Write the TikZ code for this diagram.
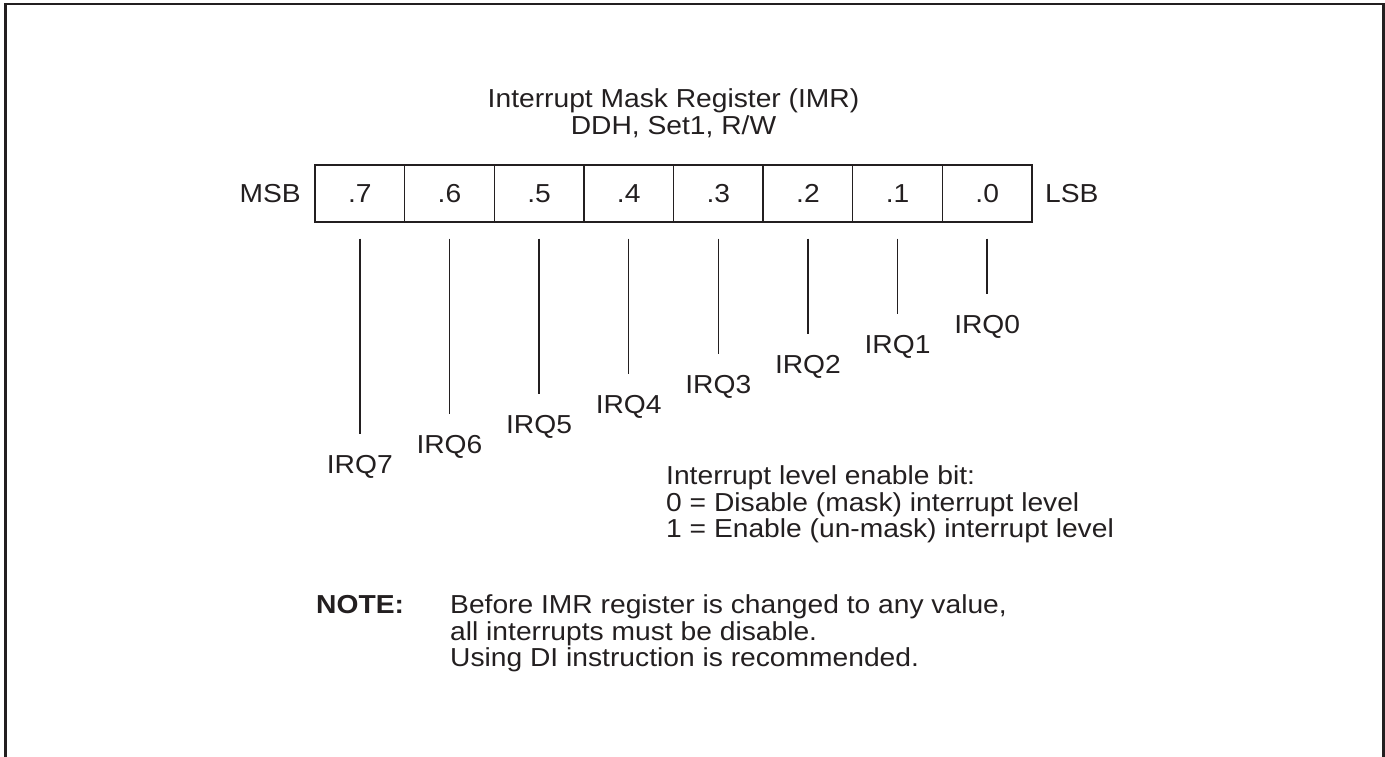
\documentclass[tikz,border=0pt]{standalone}
\usepackage{fontspec}
\setmainfont{Liberation Sans}[FakeStretch=1.085]
\definecolor{ink}{HTML}{231F20}
\begin{document}
\begin{tikzpicture}[x=1pt,y=-1pt,
  every node/.style={font=\fontsize{26pt}{26.7pt}\selectfont, text=ink},
  bitcell/.style={draw=ink, line width=1.3pt, minimum width=89.625pt, minimum height=57pt, inner sep=0pt},
  lead/.style={draw=ink, line width=1.5pt},
  irq/.style={anchor=base, inner sep=0pt},
  frame/.style={draw=ink, line width=2.5pt}]
\useasboundingbox (0,0) rectangle (1385,757);
% outer frame (open at bottom)
\draw[frame] (5.3,757) -- (5.3,4.2) -- (1383.5,4.2) -- (1383.5,757);
% title
\node[anchor=north, align=center, inner sep=0pt] (title) at (673.5,88.5) {Interrupt Mask Register (IMR)\\DDH, Set1, R/W};
% register cells
\foreach \b [count=\i from 0] in {7,6,5,4,3,2,1,0} {
  \node[bitcell] (b\b) at ({315+89.625*(\i+0.5)},193.5) {.\b};
}
\node[anchor=base east, inner sep=0pt] (msb) at (301,203) {MSB};
\node[anchor=base west, inner sep=0pt] (lsb) at (1045,203) {LSB};
% leads and IRQ labels
\foreach \b/\e in {7/434,6/414,5/394,4/374,3/354,2/334,1/314,0/294} {
  \coordinate (e\b) at (b\b.south |- 0,\e);
  \node[irq] (irq\b) at ([yshift=-39pt]e\b) {IRQ\b};
  \draw[lead] ([yshift=-16pt]b\b.south) -- (e\b);
}
% legend
\node[anchor=north west, align=left, inner sep=0pt] (legend) at (666,465.5) {Interrupt level enable bit:\\0 = Disable (mask) interrupt level\\1 = Enable (un-mask) interrupt level};
% note
\node[anchor=base west, inner sep=0pt, font=\fontsize{26pt}{26.7pt}\selectfont\bfseries] (notehead) at (316,613.3) {NOTE:};
\node[anchor=north west, align=left, inner sep=0pt] (note) at (450,594.5) {Before IMR register is changed to any value,\\all interrupts must be disable.\\Using DI instruction is recommended.};
\end{tikzpicture}
\end{document}
